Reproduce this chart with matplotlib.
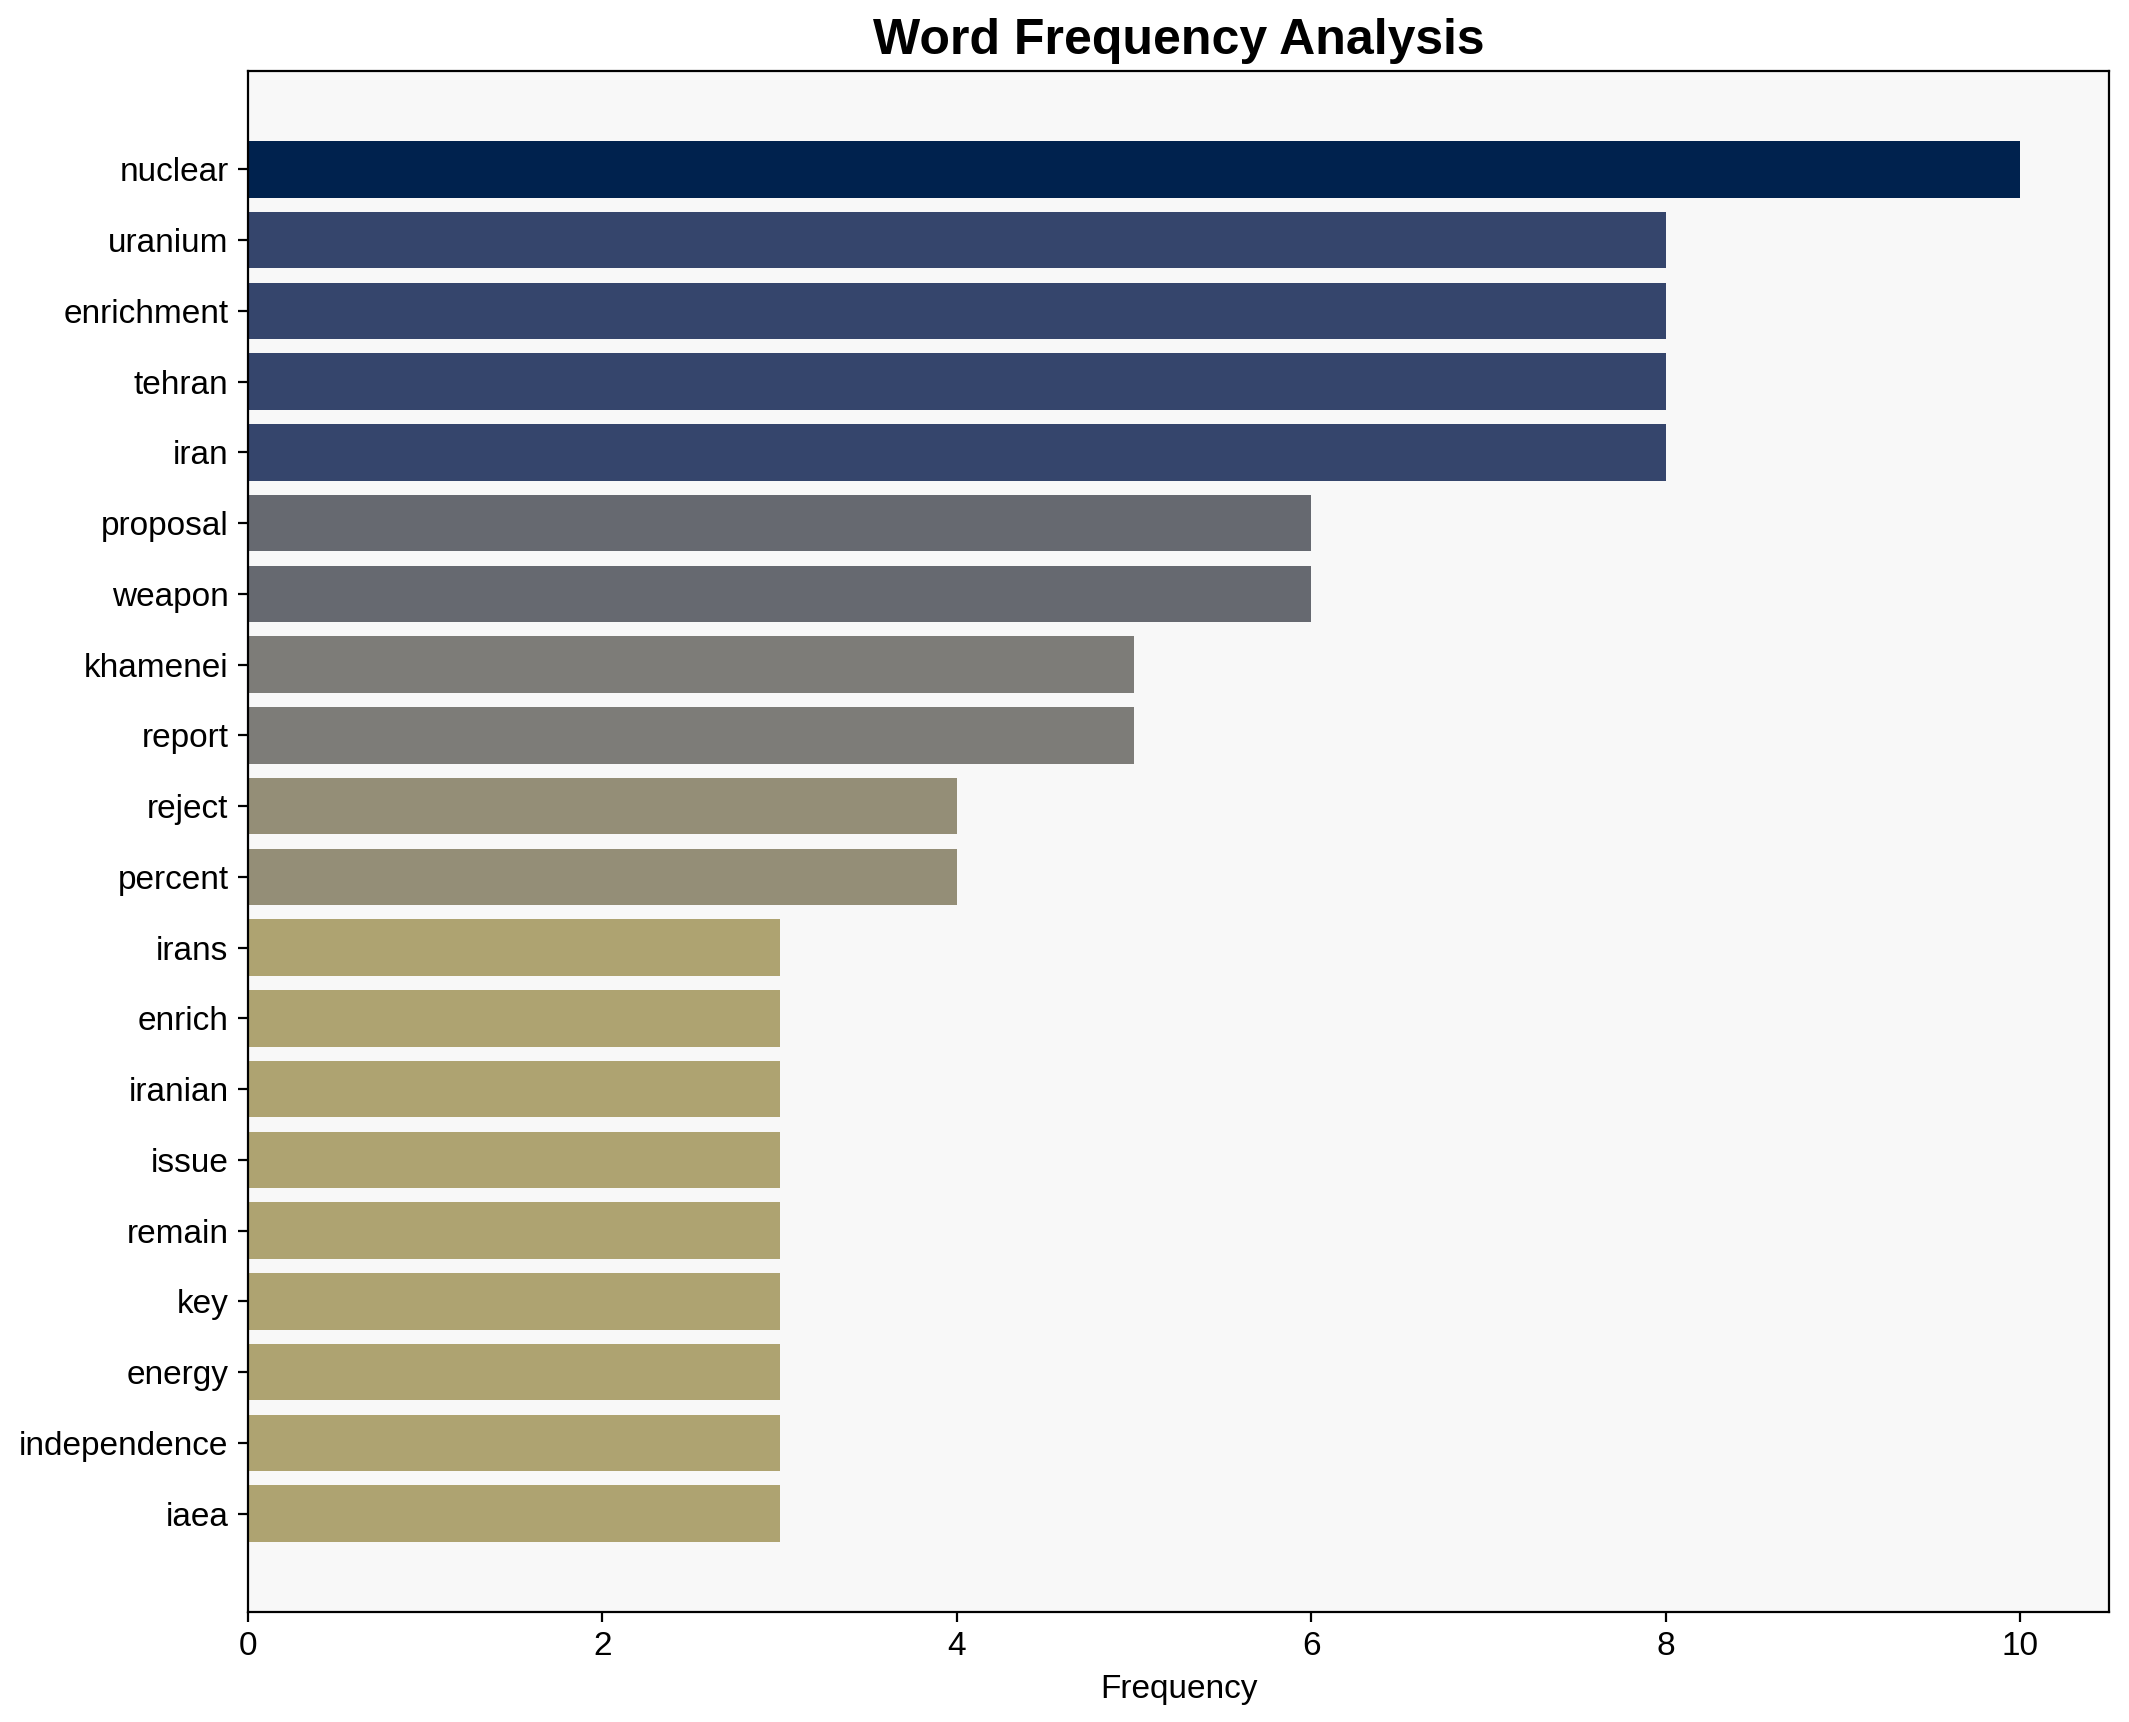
import numpy as np
import matplotlib
matplotlib.use("Agg")
import matplotlib.pyplot as plt

plt.rcParams['font.family'] = ['Liberation Sans', 'DejaVu Sans']

words = ['nuclear', 'uranium', 'enrichment', 'tehran', 'iran', 'proposal',
         'weapon', 'khamenei', 'report', 'reject', 'percent', 'irans',
         'enrich', 'iranian', 'issue', 'remain', 'key', 'energy',
         'independence', 'iaea']
counts = [10, 8, 8, 8, 8, 6, 6, 5, 5, 4, 4, 3, 3, 3, 3, 3, 3, 3, 3, 3]

counts_arr = np.array(counts, dtype=float)
colors = plt.cm.cividis(1 - counts_arr / counts_arr.max())

fig = plt.figure(figsize=(2129 / 200, 1722 / 200), dpi=200)
ax = fig.add_axes([0.1165, 0.0639, 0.8741, 0.8949])
ax.set_facecolor('#f8f8f8')

ax.barh(words, counts, color=colors, height=0.8)
ax.invert_yaxis()

ax.set_title('Word Frequency Analysis', fontsize=18, fontweight='bold')
ax.set_xlabel('Frequency', fontsize=12)
ax.tick_params(axis='both', labelsize=12)

fig.savefig('out.png', dpi=200)
